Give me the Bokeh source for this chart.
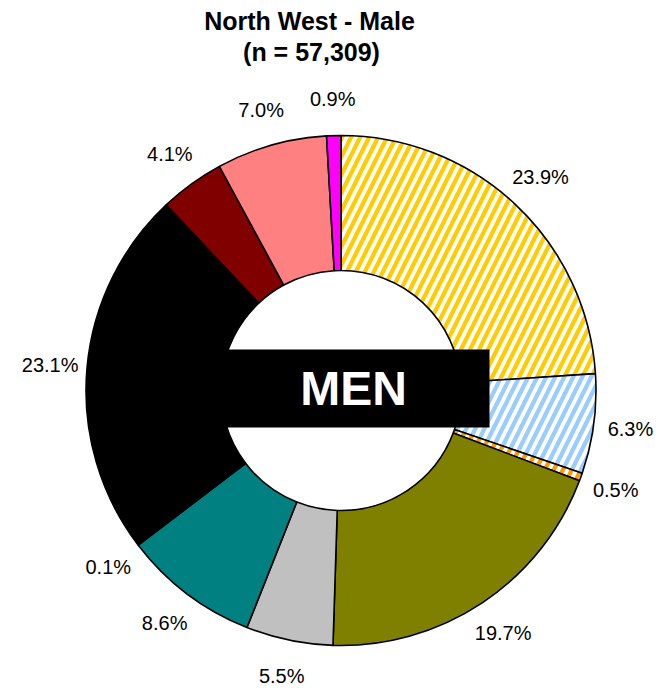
import numpy as np
from bokeh.plotting import figure
from bokeh.models import ColumnDataSource, Range1d
from bokeh.core.properties import value
from bokeh.embed import file_html
from bokeh.resources import INLINE

# ---- data ----
categories = ["A", "B", "C", "D", "E", "F", "G", "H", "I", "J", "K", "L"]
values = [23.9, 6.3, 0.5, 19.7, 5.5, 8.6, 0.1, 0.1, 23.1, 4.1, 7.0, 0.9]
labels = ["23.9%", "6.3%", "0.5%", "19.7%", "5.5%", "8.6%", "0.1%", "", "23.1%", "4.1%", "7.0%", "0.9%"]
fill_colors = ["#FFFFFF", "#FFFFFF", "#FFFFFF", "#808000", "#C0C0C0", "#008080",
               "#9999FF", "#FF0000", "#000000", "#800000", "#FF8080", "#FF00FF"]
hatch_colors = ["#FFCC00", "#99CCFF", "#FF9900", "#000000", "#000000", "#000000",
                "#000000", "#000000", "#000000", "#000000", "#000000", "#000000"]
hatch_patterns = ["/", "/", "/", " ", " ", " ", " ", " ", " ", " ", " ", " "]
title_lines = ["North West - Male", "(n = 57,309)"]
center_text = "MEN"

# ---- layout ----
W, H = 668, 688
cx, cy = 340.5, H - 390.0
R_out, R_in = 255.0, 120.0
R_lab = 292.0

vals = np.array(values)
frac = vals / vals.sum()
cum = np.concatenate([[0], np.cumsum(frac)])
start = np.pi / 2 - cum[:-1] * 2 * np.pi
end = np.pi / 2 - cum[1:] * 2 * np.pi
mid = (start + end) / 2

src = ColumnDataSource(dict(
    cat=categories, start=start, end=end, fill=fill_colors,
    hcol=hatch_colors, hpat=hatch_patterns,
))

p = figure(width=W, height=H, x_range=Range1d(0, W), y_range=Range1d(0, H),
           output_backend="svg", toolbar_location=None, min_border=0)
p.axis.visible = False
p.grid.visible = False
p.outline_line_color = None
p.background_fill_color = "white"

p.annular_wedge(x=cx, y=cy, inner_radius=R_in, outer_radius=R_out,
                start_angle="start", end_angle="end", direction="clock",
                fill_color="fill", hatch_color="hcol", hatch_pattern="hpat",
                hatch_scale=18, hatch_weight=4.2,
                line_color="black", line_width=1.6, source=src)

lx = cx + R_lab * np.cos(mid)
ly = np.maximum(cy + R_lab * np.sin(mid), 12)
lab_src = ColumnDataSource(dict(x=lx, y=ly, t=labels))
p.text(x="x", y="y", text="t", source=lab_src, text_align="center",
       text_baseline="middle", text_font=value("Liberation Sans"),
       text_font_size="20px", text_color="black")

# center box with label
p.rect(x=353, y=H - 388, width=272, height=78, fill_color="black", line_color=None)
p.text(x=[353], y=[H - 388], text=[center_text], text_align="center", text_baseline="middle",
       text_font=value("Liberation Sans"), text_font_style="bold",
       text_font_size="48px", text_color="white")

# title
p.text(x=[309, 311], y=[H - 20, H - 51], text=title_lines, text_align="center",
       text_baseline="middle", text_font=value("Liberation Sans"),
       text_font_style="bold", text_font_size="25px", text_color="black")

open("out.html", "w").write(file_html(p, INLINE))
